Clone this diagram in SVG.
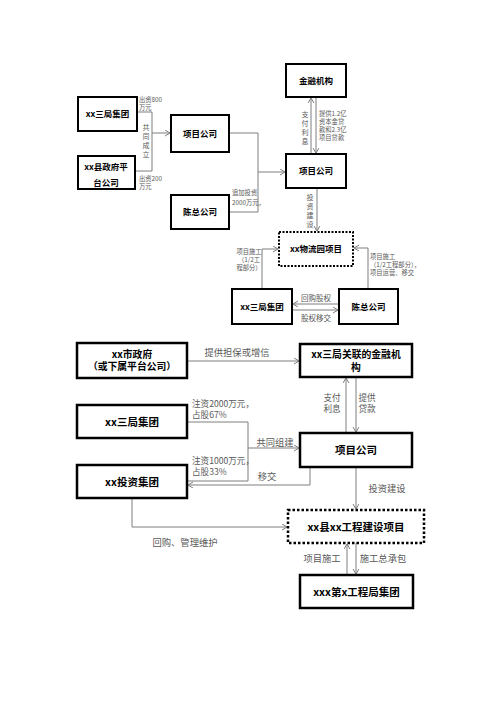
<svg xmlns="http://www.w3.org/2000/svg" width="500" height="707" viewBox="0 0 500 707">
<style>
text{font-family:"Noto Sans CJK SC","Noto Sans",sans-serif}
.b1{fill:#fff;stroke:#000;stroke-width:2}
.b2{fill:#fff;stroke:#000;stroke-width:2.5}
.d1{fill:#fff;stroke:#000;stroke-width:2;stroke-dasharray:2 1.5}
.d2{fill:#fff;stroke:#000;stroke-width:2.5;stroke-dasharray:2.5 2}
.t1{font-size:8.5px;font-weight:bold;fill:#000;text-anchor:middle}
.t2{font-size:10.5px;font-weight:bold;fill:#000;text-anchor:middle}
.t3{font-size:9.8px;font-weight:bold;fill:#000;text-anchor:middle}
.s{font-size:6.3px;fill:#595959}
.v{font-size:7px;fill:#595959;text-anchor:middle}
.w{font-size:7.5px;fill:#595959;text-anchor:middle}
.l{font-size:9.3px;fill:#595959}
.k{font-size:8.6px;fill:#595959}
.m{text-anchor:middle}
.c{fill:none;stroke:#7f7f7f;stroke-width:1}
.a{marker-end:url(#ah)}
</style>
<defs>
<marker id="ah" markerWidth="8" markerHeight="8" refX="5" refY="3" orient="auto" markerUnits="userSpaceOnUse">
<path d="M0,0 L5,3 L0,6" fill="none" stroke="#7f7f7f" stroke-width="1"/>
</marker>
</defs>
<rect width="500" height="707" fill="#fff"/>

<g id="connectors">
<path class="c" d="M137,112 H152 V171 H135"/>
<path class="c a" d="M152,133 H170"/>
<path class="c" d="M229,133 H258 V212 H229"/>
<path class="c a" d="M258,172 H285"/>
<path class="c a" d="M311,154 V98"/>
<path class="c a" d="M316,97 V153"/>
<path class="c a" d="M317,188 V231"/>
<path class="c a" d="M262,289 V249 H278"/>
<path class="c a" d="M368,289 V248 H354"/>
<path class="c a" d="M339,304 H293"/>
<path class="c a" d="M292,310 H338"/>

<path class="c a" d="M187,361 H299"/>
<path class="c a" d="M346,433 V378"/>
<path class="c a" d="M356,377 V432"/>
<path class="c" d="M187,422 H248 V481 H187"/>
<path class="c a" d="M248,448 H299"/>
<path class="c a" d="M310,467 V485 H188"/>
<path class="c a" d="M356,467 V509"/>
<path class="c a" d="M132,498 V527 H287"/>
<path class="c a" d="M347,575 V544"/>
<path class="c a" d="M356,543 V574"/>
</g>

<g id="labels">
<text class="s"><tspan x="139" y="102">出资800</tspan><tspan x="139" y="110">万元</tspan></text>
<text class="s"><tspan x="139" y="181">出资200</tspan><tspan x="139" y="189">万元</tspan></text>
<text class="v"><tspan x="146" y="129.5">共</tspan><tspan x="146" y="138.7">同</tspan><tspan x="146" y="147.9">成</tspan><tspan x="146" y="157.1">立</tspan></text>
<text class="s"><tspan x="232" y="195">追加投资</tspan><tspan x="232" y="205">2000万元，</tspan></text>
<text class="v"><tspan x="305" y="116.5">支</tspan><tspan x="305" y="125.5">付</tspan><tspan x="305" y="134.5">利</tspan><tspan x="305" y="143.5">息</tspan></text>
<text class="s"><tspan x="319" y="116">提供1.2亿</tspan><tspan x="319" y="124">资本金贷</tspan><tspan x="319" y="132.2">款和2.3亿</tspan><tspan x="319" y="140.4">项目贷款</tspan></text>
<text class="v"><tspan x="310" y="199.5">投</tspan><tspan x="310" y="208.5">资</tspan><tspan x="310" y="217.5">建</tspan><tspan x="310" y="226.5">设</tspan></text>
<text class="s m"><tspan x="249" y="254">项目施工</tspan><tspan x="249" y="262">（1/2工</tspan><tspan x="249" y="270">程部分）</tspan></text>
<text class="s"><tspan x="370" y="259">项目施工</tspan><tspan x="370" y="267">（1/2工程部分），</tspan><tspan x="370" y="275">项目运营、移交</tspan></text>
<text class="w" x="316" y="300.5">回购股权</text>
<text class="w" x="316" y="320.5">股权移交</text>

<text class="l m" x="237" y="356">提供担保或增信</text>
<text class="k m"><tspan x="332" y="400.5">支付</tspan><tspan x="332" y="411.7">利息</tspan></text>
<text class="k m"><tspan x="367" y="400.5">提供</tspan><tspan x="367" y="411.7">贷款</tspan></text>
<text class="k"><tspan x="192" y="407">注资2000万元，</tspan><tspan x="192" y="418.2">占股67%</tspan></text>
<text class="l m" x="275" y="446">共同组建</text>
<text class="k"><tspan x="192" y="464">注资1000万元，</tspan><tspan x="192" y="475.2">占股33%</tspan></text>
<text class="l m" x="267" y="480">移交</text>
<text class="l m" x="387" y="492">投资建设</text>
<text class="l m" x="185" y="546">回购、管理维护</text>
<text class="l m" x="322" y="562">项目施工</text>
<text class="l m" x="383" y="562">施工总承包</text>
</g>

<g id="n1"><rect class="b1" x="78" y="97" width="59" height="34"/><text class="t1" x="107.5" y="117">xx三局集团</text></g>
<g id="n2"><rect class="b1" x="78" y="156" width="57" height="33"/><text class="t1"><tspan x="106" y="170">xx县政府平</tspan><tspan x="106" y="186">台公司</tspan></text></g>
<g id="n3"><rect class="b1" x="171" y="115" width="58" height="37"/><text class="t1" x="200" y="136.5">项目公司</text></g>
<g id="n4"><rect class="b1" x="171" y="195" width="58" height="34"/><text class="t1" x="200" y="215">陈总公司</text></g>
<g id="n5"><rect class="b1" x="286" y="64" width="60" height="33"/><text class="t1" x="316" y="83.5">金融机构</text></g>
<g id="n6"><rect class="b1" x="286" y="154" width="60" height="34"/><text class="t1" x="316" y="174">项目公司</text></g>
<g id="n7"><rect class="d1" x="279" y="232" width="74" height="34"/><text class="t1" x="316" y="252">xx物流园项目</text></g>
<g id="n8"><rect class="b1" x="232" y="289" width="60" height="35"/><text class="t1" x="262" y="309.5">xx三局集团</text></g>
<g id="n9"><rect class="b1" x="339" y="289" width="59" height="35"/><text class="t1" x="368.5" y="309.5">陈总公司</text></g>

<g id="m1"><rect class="b2" x="77" y="343" width="110" height="35"/><text class="t3"><tspan x="132" y="357.5">xx市政府</tspan><tspan x="132" y="370.3">（或下属平台公司）</tspan></text></g>
<g id="m2"><rect class="b2" x="300" y="344" width="112" height="33"/><text class="t3"><tspan x="356" y="358">xx三局关联的金融机</tspan><tspan x="356" y="370.8">构</tspan></text></g>
<g id="m3"><rect class="b2" x="77" y="405" width="110" height="33"/><text class="t2" x="132" y="425.5">xx三局集团</text></g>
<g id="m4"><rect class="b2" x="300" y="433" width="112" height="34"/><text class="t2" x="356" y="454">项目公司</text></g>
<g id="m5"><rect class="b2" x="77" y="465" width="110" height="33"/><text class="t2" x="132" y="485.5">xx投资集团</text></g>
<g id="m6"><rect class="d2" x="288" y="510" width="136" height="33"/><text class="t2" x="356" y="530.5">xx县xx工程建设项目</text></g>
<g id="m7"><rect class="b2" x="300" y="575" width="113" height="33"/><text class="t2" x="356.5" y="595.5">xxx第x工程局集团</text></g>
</svg>
